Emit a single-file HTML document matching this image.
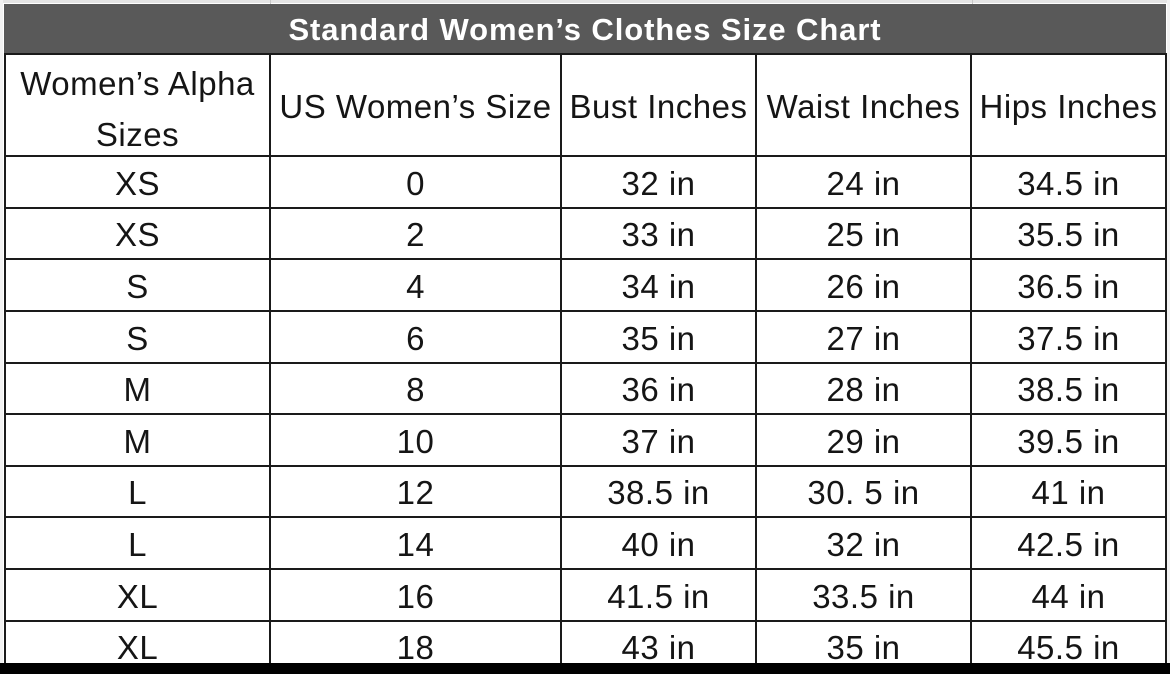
<!DOCTYPE html>
<html>
<head>
<meta charset="utf-8">
<style>
  html,body{margin:0;padding:0;}
  body{width:1170px;height:674px;position:relative;overflow:hidden;background:#fff;
       font-family:"Liberation Sans","DejaVu Sans",sans-serif;color:#151515;}
  .abs{position:absolute;}
  .h{position:absolute;height:2px;background:#1a1a1a;}
  .v{position:absolute;width:2px;background:#1a1a1a;}
  .c{position:absolute;display:flex;align-items:center;justify-content:center;
     font-size:33px;line-height:1;letter-spacing:0.5px;white-space:nowrap;}
  .title{position:absolute;left:4px;top:4px;width:1162px;height:50px;background:#595959;
     color:#fff;font-weight:bold;font-size:31px;letter-spacing:0.9px;
     display:flex;align-items:center;justify-content:center;line-height:1;}
</style>
</head>
<body>
<!-- faint excel gridlines above/around -->
<div class="abs" style="left:0;top:0;width:1170px;height:3px;background:#e4e4e4;"></div>
<div class="abs" style="left:270px;top:0;width:1px;height:4px;background:#c8c8c8;"></div>
<div class="abs" style="left:972px;top:0;width:1px;height:4px;background:#c8c8c8;"></div>
<div class="abs" style="left:0;top:0;width:3px;height:664px;background:#f2f2f2;"></div>
<div class="abs" style="left:1167px;top:0;width:3px;height:664px;background:#f2f2f2;"></div>

<div class="title">Standard Women’s Clothes Size Chart</div>

<!-- horizontal lines -->
<div class="h" style="left:4px;width:1163px;top:53px;"></div>
<div class="h" style="left:4px;width:1163px;top:155px;"></div>
<div class="h" style="left:4px;width:1163px;top:207px;"></div>
<div class="h" style="left:4px;width:1163px;top:258px;"></div>
<div class="h" style="left:4px;width:1163px;top:310px;"></div>
<div class="h" style="left:4px;width:1163px;top:362px;"></div>
<div class="h" style="left:4px;width:1163px;top:413px;"></div>
<div class="h" style="left:4px;width:1163px;top:465px;"></div>
<div class="h" style="left:4px;width:1163px;top:516px;"></div>
<div class="h" style="left:4px;width:1163px;top:568px;"></div>
<div class="h" style="left:4px;width:1163px;top:620px;"></div>

<!-- vertical lines -->
<div class="v" style="left:4px;top:54px;height:610px;"></div>
<div class="v" style="left:269px;top:54px;height:610px;"></div>
<div class="v" style="left:560px;top:54px;height:610px;"></div>
<div class="v" style="left:755px;top:54px;height:610px;"></div>
<div class="v" style="left:970px;top:54px;height:610px;"></div>
<div class="v" style="left:1165px;top:54px;height:610px;"></div>

<!-- header row -->
<div class="c" style="left:6px;width:263px;top:66px;height:34px;">Women’s Alpha</div>
<div class="c" style="left:6px;width:263px;top:117px;height:34px;">Sizes</div>
<div class="c" style="left:271px;width:289px;top:56px;height:101px;">US Women’s Size</div>
<div class="c" style="left:562px;width:193px;top:56px;height:101px;">Bust Inches</div>
<div class="c" style="left:757px;width:213px;top:56px;height:101px;">Waist Inches</div>
<div class="c" style="left:972px;width:193px;top:56px;height:101px;">Hips Inches</div>

<!-- data rows -->
<div class="c" style="left:6px;width:263px;top:158px;height:51px;">XS</div>
<div class="c" style="left:271px;width:289px;top:158px;height:51px;">0</div>
<div class="c" style="left:562px;width:193px;top:158px;height:51px;">32 in</div>
<div class="c" style="left:757px;width:213px;top:158px;height:51px;">24 in</div>
<div class="c" style="left:972px;width:193px;top:158px;height:51px;">34.5 in</div>

<div class="c" style="left:6px;width:263px;top:209px;height:51px;">XS</div>
<div class="c" style="left:271px;width:289px;top:209px;height:51px;">2</div>
<div class="c" style="left:562px;width:193px;top:209px;height:51px;">33 in</div>
<div class="c" style="left:757px;width:213px;top:209px;height:51px;">25 in</div>
<div class="c" style="left:972px;width:193px;top:209px;height:51px;">35.5 in</div>

<div class="c" style="left:6px;width:263px;top:261px;height:51px;">S</div>
<div class="c" style="left:271px;width:289px;top:261px;height:51px;">4</div>
<div class="c" style="left:562px;width:193px;top:261px;height:51px;">34 in</div>
<div class="c" style="left:757px;width:213px;top:261px;height:51px;">26 in</div>
<div class="c" style="left:972px;width:193px;top:261px;height:51px;">36.5 in</div>

<div class="c" style="left:6px;width:263px;top:313px;height:51px;">S</div>
<div class="c" style="left:271px;width:289px;top:313px;height:51px;">6</div>
<div class="c" style="left:562px;width:193px;top:313px;height:51px;">35 in</div>
<div class="c" style="left:757px;width:213px;top:313px;height:51px;">27 in</div>
<div class="c" style="left:972px;width:193px;top:313px;height:51px;">37.5 in</div>

<div class="c" style="left:6px;width:263px;top:364px;height:51px;">M</div>
<div class="c" style="left:271px;width:289px;top:364px;height:51px;">8</div>
<div class="c" style="left:562px;width:193px;top:364px;height:51px;">36 in</div>
<div class="c" style="left:757px;width:213px;top:364px;height:51px;">28 in</div>
<div class="c" style="left:972px;width:193px;top:364px;height:51px;">38.5 in</div>

<div class="c" style="left:6px;width:263px;top:416px;height:51px;">M</div>
<div class="c" style="left:271px;width:289px;top:416px;height:51px;">10</div>
<div class="c" style="left:562px;width:193px;top:416px;height:51px;">37 in</div>
<div class="c" style="left:757px;width:213px;top:416px;height:51px;">29 in</div>
<div class="c" style="left:972px;width:193px;top:416px;height:51px;">39.5 in</div>

<div class="c" style="left:6px;width:263px;top:467px;height:51px;">L</div>
<div class="c" style="left:271px;width:289px;top:467px;height:51px;">12</div>
<div class="c" style="left:562px;width:193px;top:467px;height:51px;">38.5 in</div>
<div class="c" style="left:757px;width:213px;top:467px;height:51px;">30. 5 in</div>
<div class="c" style="left:972px;width:193px;top:467px;height:51px;">41 in</div>

<div class="c" style="left:6px;width:263px;top:519px;height:51px;">L</div>
<div class="c" style="left:271px;width:289px;top:519px;height:51px;">14</div>
<div class="c" style="left:562px;width:193px;top:519px;height:51px;">40 in</div>
<div class="c" style="left:757px;width:213px;top:519px;height:51px;">32 in</div>
<div class="c" style="left:972px;width:193px;top:519px;height:51px;">42.5 in</div>

<div class="c" style="left:6px;width:263px;top:571px;height:51px;">XL</div>
<div class="c" style="left:271px;width:289px;top:571px;height:51px;">16</div>
<div class="c" style="left:562px;width:193px;top:571px;height:51px;">41.5 in</div>
<div class="c" style="left:757px;width:213px;top:571px;height:51px;">33.5 in</div>
<div class="c" style="left:972px;width:193px;top:571px;height:51px;">44 in</div>

<div class="c" style="left:6px;width:263px;top:622px;height:51px;">XL</div>
<div class="c" style="left:271px;width:289px;top:622px;height:51px;">18</div>
<div class="c" style="left:562px;width:193px;top:622px;height:51px;">43 in</div>
<div class="c" style="left:757px;width:213px;top:622px;height:51px;">35 in</div>
<div class="c" style="left:972px;width:193px;top:622px;height:51px;">45.5 in</div>

<!-- bottom black bar -->
<div class="abs" style="left:0;top:663px;width:1170px;height:11px;background:#000;"></div>
</body>
</html>
